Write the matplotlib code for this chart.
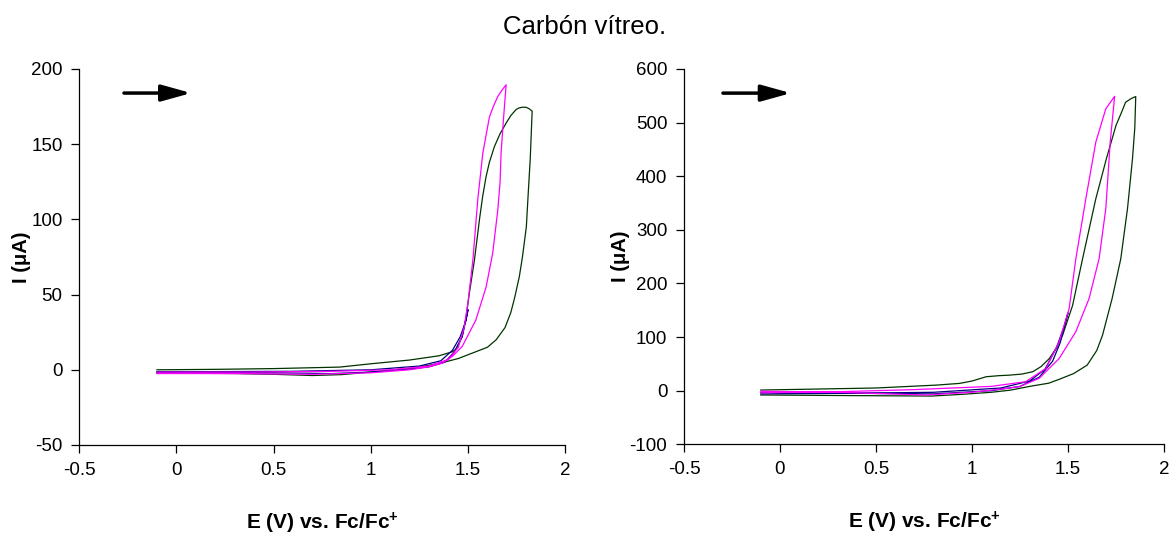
import matplotlib.pyplot as plt

# ===================== 全局配置 =====================
plt.rcParams['font.family'] = ['Liberation Sans', 'DejaVu Sans']
plt.rcParams['mathtext.default'] = 'regular'
plt.rcParams['axes.unicode_minus'] = False

GREEN = '#003300'
BLUE = '#000080'
MAGENTA = '#FF00FF'

# ===================== 数据（左图） =====================
left_green_E = [-0.1, 0.0, 0.3, 0.5, 0.7, 0.85, 1.0, 1.2, 1.3, 1.39, 1.45, 1.52, 1.6, 1.645,
                1.69, 1.72, 1.74, 1.764, 1.78, 1.80, 1.81, 1.82, 1.83, 1.815, 1.80, 1.78,
                1.76, 1.747, 1.72, 1.696, 1.665, 1.636, 1.61, 1.593, 1.575, 1.559, 1.533,
                1.507, 1.49, 1.47, 1.44, 1.42, 1.35, 1.2, 1.0, 0.84, 0.5, 0.2, -0.1]
left_green_I = [-2.2, -2.2, -2.5, -3.0, -3.8, -3.2, -1.5, 1.0, 3.0, 5.5, 7.5, 11, 15, 20,
                28, 38, 48, 62, 75, 95, 118, 140, 172, 173.5, 174.5, 174.6,
                174, 173, 169, 164, 157, 148.5, 138, 128.5, 115, 100, 73,
                51, 35, 22, 14, 12, 9.3, 6.5, 4.0, 1.8, 0.8, 0.3, 0.0]

left_blue_E = [-0.1, 0.5, 0.8, 1.0, 1.2, 1.3, 1.38, 1.43, 1.47, 1.5,
               1.49, 1.46, 1.42, 1.36, 1.25, 1.0, 0.6, 0.2, -0.1]
left_blue_I = [-1.8, -2.0, -2.5, -1.5, 0.5, 2.0, 5.0, 12, 22, 40,
               33, 22, 13, 6, 2.5, 0.0, -1.0, -1.2, -1.2]

left_mag_E = [-0.1, 0.3, 0.7, 1.0, 1.2, 1.3, 1.37, 1.42, 1.47, 1.54, 1.593, 1.627, 1.653,
              1.665, 1.67, 1.682, 1.696, 1.675, 1.653, 1.63, 1.61, 1.576, 1.55, 1.525,
              1.499, 1.48, 1.45, 1.4, 1.3, 1.1, 0.8, 0.4, -0.1]
left_mag_I = [-2.5, -2.5, -3.0, -2.0, 0.0, 2.0, 4.5, 9, 15.5, 33, 55, 77.6, 106,
              125, 144, 166, 189.5, 186, 181.7, 175, 168, 144, 113, 73,
              44, 28, 15, 7, 2.5, 0.0, -1.0, -1.5, -1.5]

# ===================== 数据（右图） =====================
right_green_E = [-0.1, 0.3, 0.79, 0.94, 1.1, 1.2, 1.3, 1.4, 1.46, 1.53, 1.6, 1.65, 1.68,
                 1.73, 1.775, 1.81, 1.836, 1.848, 1.853, 1.83, 1.80, 1.78, 1.75, 1.70,
                 1.645, 1.576, 1.524, 1.472, 1.44, 1.403, 1.36, 1.317, 1.26, 1.196, 1.14,
                 1.074, 1.0, 0.936, 0.814, 0.5, -0.1]
right_green_I = [-8, -9, -10, -7, -3, 1, 8, 14, 22, 32, 47.7, 75, 103.5,
                 172, 246, 339.5, 432.6, 490, 548.6, 545, 538, 520, 494.6, 432.6,
                 358, 246, 159, 103.5, 80, 60, 45, 35.4, 31, 29, 28,
                 26, 18, 13.6, 10.4, 5, 1.2]

right_blue_E = [-0.1, 0.4, 0.8, 1.1, 1.25, 1.35, 1.42, 1.46, 1.5,
                1.48, 1.44, 1.38, 1.3, 1.15, 0.8, 0.3, -0.1]
right_blue_I = [-3, -5, -6, 0, 8, 25, 55, 90, 145,
                120, 80, 40, 18, 5, -3, -5, -6]

right_mag_E = [-0.1, 0.3, 0.76, 1.0, 1.15, 1.247, 1.35, 1.454, 1.541, 1.61, 1.662, 1.697,
               1.72, 1.743, 1.697, 1.645, 1.593, 1.541, 1.506, 1.454, 1.385, 1.28, 1.1,
               0.7, 0.3, -0.1]
right_mag_I = [-1, -3, -8, -3, 3, 7.5, 23, 60, 110, 172, 246, 339.5,
               463.7, 549, 525.7, 463.7, 358, 246, 153, 91, 41.5, 16.8, 8,
               2, -2, -4]

panels = [
    dict(rect=[0.0678, 0.1744, 0.4157, 0.6976], ylim=(-50, 200), yticks=range(-50, 201, 50),
         arrow_y=184, arrow_x=(-0.27, 0.076),
         series=[(left_green_E, left_green_I, GREEN),
                 (left_blue_E, left_blue_I, BLUE),
                 (left_mag_E, left_mag_I, MAGENTA)]),
    dict(rect=[0.5851, 0.1757, 0.4106, 0.6963], ylim=(-100, 600), yticks=range(-100, 601, 100),
         arrow_y=555, arrow_x=(-0.297, 0.057),
         series=[(right_green_E, right_green_I, GREEN),
                 (right_blue_E, right_blue_I, BLUE),
                 (right_mag_E, right_mag_I, MAGENTA)]),
]

# ===================== 绘图 =====================
fig = plt.figure(figsize=(11.69, 5.39), dpi=100)
fig.text(0.5, 0.95, 'Carbón vítreo.', ha='center', va='center', fontsize=18.5)

for p in panels:
    ax = fig.add_axes(p['rect'])
    for E, I, c in p['series']:
        ax.plot(E, I, color=c, lw=0.9)

    # 扫描方向箭头
    ax.annotate('', xy=(p['arrow_x'][1], p['arrow_y']), xytext=(p['arrow_x'][0], p['arrow_y']),
                arrowprops=dict(arrowstyle='-|>,head_length=0.9,head_width=0.25',
                                color='black', lw=2.5, mutation_scale=20, shrinkA=0, shrinkB=0))

    ax.set_xlim(-0.5, 2)
    ax.set_ylim(*p['ylim'])
    ax.set_xticks([-0.5, 0, 0.5, 1, 1.5, 2])
    ax.set_xticklabels(['-0.5', '0', '0.5', '1', '1.5', '2'])
    ax.set_yticks(list(p['yticks']))
    ax.spines['top'].set_visible(False)
    ax.spines['right'].set_visible(False)
    for s in ['left', 'bottom']:
        ax.spines[s].set_linewidth(0.9)
    ax.tick_params(direction='out', length=6, width=0.9, labelsize=13.5, pad=6)
    ax.set_xlabel(r'E (V) vs. Fc/Fc$^{+}$', fontsize=15, fontweight='bold', labelpad=23)
    ax.set_ylabel('I (μA)', fontsize=14.5, fontweight='bold', labelpad=0)

plt.savefig('out.png', dpi=100)
plt.close()
